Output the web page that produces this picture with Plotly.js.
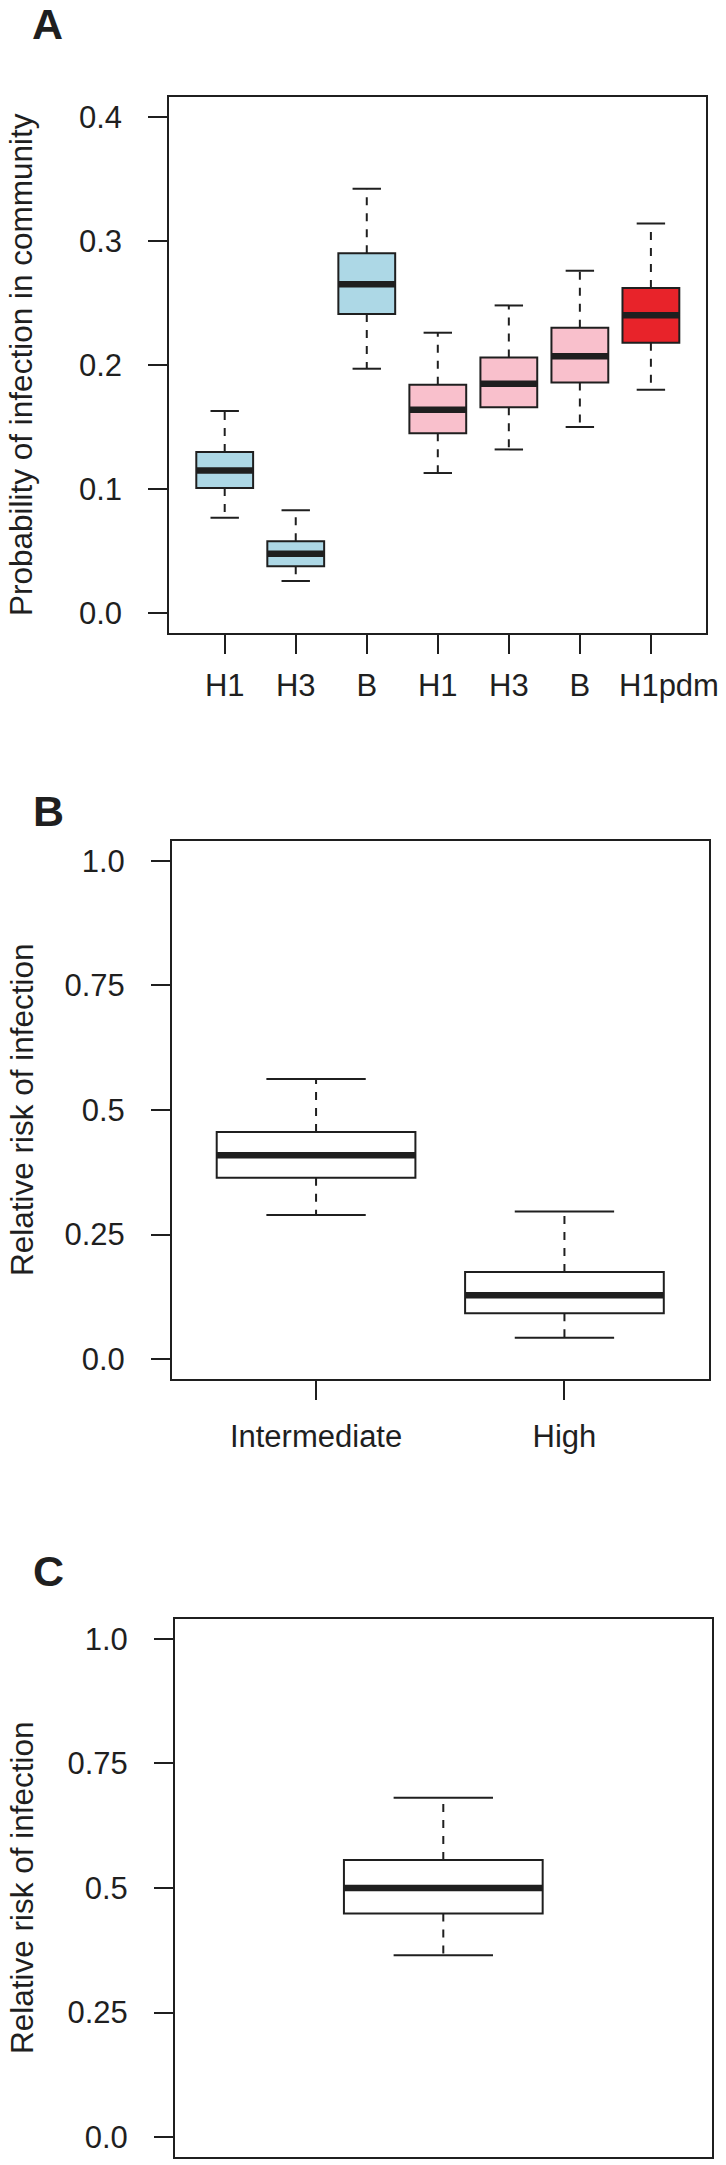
<!DOCTYPE html>
<html>
<head>
<meta charset="utf-8">
<script src="https://cdn.plot.ly/plotly-3.0.1.min.js"></script>
<style>
  html, body { margin: 0; padding: 0; background: #ffffff; }
  #chart { width: 726px; height: 2165px; }
</style>
</head>
<body>
<div id="chart"></div>
<script>
// ---------- Panel A data ----------
const catsA   = ['H1', 'H3', 'B', 'H1', 'H3', 'B', 'H1pdm'];
const upperA  = [0.163, 0.083, 0.342, 0.226, 0.248, 0.276, 0.314];
const q3A     = [0.130, 0.058, 0.290, 0.184, 0.206, 0.230, 0.262];
const medA    = [0.115, 0.048, 0.265, 0.164, 0.185, 0.207, 0.240];
const q1A     = [0.101, 0.038, 0.241, 0.145, 0.166, 0.186, 0.218];
const lowerA  = [0.077, 0.026, 0.197, 0.113, 0.132, 0.150, 0.180];
const groupA  = ['blue', 'blue', 'blue', 'pink', 'pink', 'pink', 'red'];
const yTicksA = [0, 0.1, 0.2, 0.3, 0.4];
const yTextA  = ['0.0', '0.1', '0.2', '0.3', '0.4'];

// ---------- Panel B data ----------
const catsB   = ['Intermediate', 'High'];
const upperB  = [0.562, 0.296];
const q3B     = [0.456, 0.175];
const medB    = [0.409, 0.128];
const q1B     = [0.364, 0.092];
const lowerB  = [0.289, 0.043];

// ---------- Panel C data ----------
const catsC   = [''];
const upperC  = [0.681];
const q3C     = [0.556];
const medC    = [0.500];
const q1C     = [0.449];
const lowerC  = [0.365];

const yTicksBC = [0, 0.25, 0.5, 0.75, 1.0];
const yTextBC  = ['0.0', '0.25', '0.5', '0.75', '1.0'];

// ---------- styling ----------
const FONT = 'Liberation Sans, Arial, Helvetica, sans-serif';
const INK = '#1f1f1f';
const fills = { blue: '#ADD8E6', pink: '#F9C0CC', red: '#E8232A', white: '#FFFFFF' };
const BOXW = 0.8;

const traces = [];

function addBoxes(cats, upper, q3, med, q1, lower, colors, xa, ya) {
  cats.forEach((c, i) => {
    const p = i + 1;
    traces.push({
      type: 'box', x: [p], q1: [q1[i]], median: [med[i]], q3: [q3[i]],
      lowerfence: [q1[i]], upperfence: [q3[i]],
      width: BOXW, whiskerwidth: 0, boxpoints: false,
      fillcolor: fills[colors[i]], line: { color: INK, width: 2 },
      xaxis: xa, yaxis: ya, hoverinfo: 'skip', showlegend: false
    });
    // dashed whiskers
    traces.push({
      type: 'scatter', mode: 'lines',
      x: [p, p, null, p, p], y: [q3[i], upper[i], null, q1[i], lower[i]],
      line: { color: INK, width: 2, dash: '8px,8px' },
      xaxis: xa, yaxis: ya, hoverinfo: 'skip', showlegend: false
    });
    // staples
    const h = BOXW / 4;
    traces.push({
      type: 'scatter', mode: 'lines',
      x: [p - h, p + h, null, p - h, p + h], y: [upper[i], upper[i], null, lower[i], lower[i]],
      line: { color: INK, width: 2 },
      xaxis: xa, yaxis: ya, hoverinfo: 'skip', showlegend: false
    });
    // thick median
    traces.push({
      type: 'scatter', mode: 'lines',
      x: [p - BOXW / 2, p + BOXW / 2], y: [med[i], med[i]],
      line: { color: INK, width: 6.5 },
      xaxis: xa, yaxis: ya, hoverinfo: 'skip', showlegend: false
    });
  });
}

addBoxes(catsA, upperA, q3A, medA, q1A, lowerA, groupA, 'x', 'y');
addBoxes(catsB, upperB, q3B, medB, q1B, lowerB, ['white', 'white'], 'x2', 'y2');
addBoxes(catsC, upperC, q3C, medC, q1C, lowerC, ['white'], 'x3', 'y3');

const W = 726, H = 2165;
function xd(l, r) { return [l / W, r / W]; }
function yd(t, b) { return [1 - b / H, 1 - t / H]; }

const axCommon = {
  showline: true, mirror: true, linecolor: INK, linewidth: 2,
  showgrid: false, zeroline: false,
  ticks: 'outside', ticklen: 19, tickwidth: 2, tickcolor: INK,
  tickfont: { family: FONT, size: 31, color: INK },
  tickangle: 0,
  fixedrange: true
};

// the last label of panel A sits a little right of its tick in the original,
// so it is drawn as an annotation anchored to its category
const lastA = catsA.length - 1;
const tickTextA = catsA.map((c, i) => i === lastA ? '' : c);

const layout = {
  width: W, height: H,
  margin: { l: 0, r: 0, t: 0, b: 0 },
  paper_bgcolor: '#ffffff', plot_bgcolor: '#ffffff',
  showlegend: false, boxmode: 'overlay',
  font: { family: FONT, color: INK },
  xaxis: Object.assign({}, axCommon, {
    domain: xd(169.3, 706.3), anchor: 'y', range: [0.22, 7.78],
    tickmode: 'array', tickvals: catsA.map((c, i) => i + 1), ticktext: tickTextA,
    ticklabelstandoff: 5
  }),
  yaxis: Object.assign({}, axCommon, {
    domain: yd(96.8, 633.2), anchor: 'x', range: [-0.016, 0.416],
    tickmode: 'array', tickvals: yTicksA, ticktext: yTextA,
    ticklabelstandoff: 20
  }),
  xaxis2: Object.assign({}, axCommon, {
    domain: xd(172, 708.5), anchor: 'y2', range: [0.42, 2.58],
    tickmode: 'array', tickvals: catsB.map((c, i) => i + 1), ticktext: catsB,
    ticklabelstandoff: 10
  }),
  yaxis2: Object.assign({}, axCommon, {
    domain: yd(841, 1379), anchor: 'x2', range: [-0.04, 1.04],
    tickmode: 'array', tickvals: yTicksBC, ticktext: yTextBC,
    ticklabelstandoff: 20
  }),
  xaxis3: Object.assign({}, axCommon, {
    domain: xd(175, 711.6), anchor: 'y3', range: [-0.08, 2.08],
    ticks: '', showticklabels: false
  }),
  yaxis3: Object.assign({}, axCommon, {
    domain: yd(1619, 2157), anchor: 'x3', range: [-0.04, 1.04],
    tickmode: 'array', tickvals: yTicksBC, ticktext: yTextBC,
    ticklabelstandoff: 20
  }),
  annotations: [
    { text: 'A', x: 47.5 / W, y: 1 - 23.5 / H },
    { text: 'B', x: 48 / W, y: 1 - 810.5 / H },
    { text: 'C', x: 48 / W, y: 1 - 1571 / H }
  ].map(a => Object.assign({
    xref: 'paper', yref: 'paper', xanchor: 'center', yanchor: 'middle', showarrow: false,
    font: { family: FONT, size: 43, color: INK, weight: 'bold' }
  }, a, { text: '<b>' + a.text + '</b>' })).concat([
    { text: 'Probability of infection in community', x: 21 / W, y: 1 - 365 / H },
    { text: 'Relative risk of infection', x: 22 / W, y: 1 - 1110 / H },
    { text: 'Relative risk of infection', x: 22 / W, y: 1 - 1888 / H }
  ].map(a => Object.assign({
    xref: 'paper', yref: 'paper', xanchor: 'center', yanchor: 'middle', showarrow: false,
    textangle: -90, font: { family: FONT, size: 31.5, color: INK }
  }, a))).concat([{
    text: catsA[lastA], xref: 'x', x: lastA + 1, xshift: 18,
    yref: 'paper', y: 1 - 685 / H, xanchor: 'center', yanchor: 'middle', showarrow: false,
    font: { family: FONT, size: 31, color: INK }
  }])
};

Plotly.newPlot('chart', traces, layout, { staticPlot: true, displayModeBar: false });
</script>
</body>
</html>
